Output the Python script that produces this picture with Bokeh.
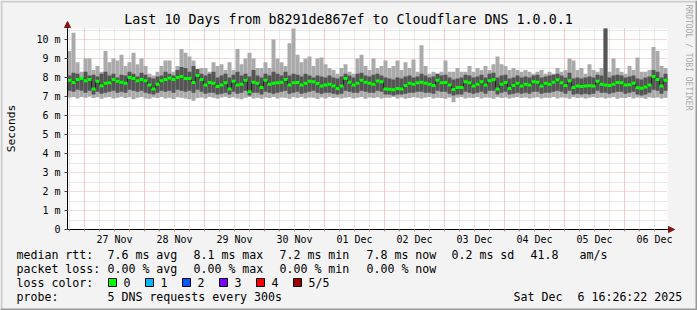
import pandas as pd
from bokeh.plotting import figure
from bokeh.models import (Range1d, FixedTicker, Label, DatetimeTickFormatter, Arrow,
                          NormalHead, BoxAnnotation, Grid)
from bokeh.embed import file_html
from bokeh.resources import INLINE

# ---------------- data (ms) ----------------
graph_start = "2025-11-26 17:12:00"
step_minutes = 96

max_rtt = [9.4,10.35,8.8,8.3,9.0,9.0,8.4,8.6,8.3,9.4,
           8.8,9.0,8.9,9.2,8.6,8.8,9.3,8.7,9.0,8.6,
           8.2,8.1,8.3,8.6,8.9,8.9,8.3,8.6,9.5,9.3,
           9.1,8.9,8.2,8.5,8.5,8.3,8.8,8.6,8.7,8.4,
           8.8,8.4,9.5,8.7,9.0,9.3,9.0,8.5,8.5,8.8,
           8.5,10.0,9.0,8.8,8.6,9.8,10.6,9.2,8.8,9.0,
           9.1,8.6,9.0,9.05,8.7,8.5,8.4,8.2,8.5,8.7,
           8.3,8.2,9.0,9.2,8.6,8.4,9.0,8.5,8.6,8.9,
           8.5,8.6,8.9,8.4,8.8,8.5,8.95,8.3,9.7,8.6,
           8.2,8.3,8.2,8.3,8.9,8.3,8.3,8.5,8.3,8.3,
           8.6,8.3,8.5,8.4,8.6,8.4,8.7,9.1,8.7,8.6,
           8.4,8.5,8.4,8.3,8.4,8.3,8.2,8.3,8.4,8.2,
           8.3,8.2,8.5,8.3,8.4,9.0,8.9,8.4,8.5,8.2,
           8.7,8.4,8.3,8.5,11.0,8.3,9.0,8.5,8.3,8.2,
           8.6,8.4,9.05,8.3,8.3,8.4,9.6,9.4,8.6,8.5]

upper_rtt = [8.1,8.25,8.2,8.0,8.3,8.1,8.15,8.05,8.2,8.3,
             8.1,8.2,8.0,8.15,8.1,8.3,8.2,8.05,8.25,8.15,
             8.0,7.95,8.05,8.1,8.3,8.2,8.1,8.4,8.55,8.5,
             8.3,8.6,8.45,8.2,8.1,8.2,8.3,8.0,8.1,8.2,
             8.0,8.15,8.3,8.1,8.2,8.05,8.4,8.1,8.0,8.2,
             8.1,8.3,8.2,8.1,8.3,8.1,8.2,8.15,8.05,8.2,
             8.1,8.0,8.1,8.05,8.0,8.1,8.0,7.95,8.05,8.2,
             8.1,8.0,8.2,8.25,8.1,8.05,8.15,8.2,8.1,8.0,
             7.95,7.9,8.0,7.95,8.05,8.1,8.0,8.05,8.2,8.1,
             8.0,8.05,8.2,8.1,8.15,8.0,7.9,7.95,8.0,8.15,
             8.1,8.0,8.05,8.15,8.0,8.2,8.25,8.0,8.1,8.15,
             7.95,8.0,8.1,8.0,8.05,8.0,8.1,8.15,8.0,8.05,
             8.1,8.15,8.2,8.1,8.0,8.25,7.95,8.0,7.95,8.0,
             8.05,8.0,8.15,8.1,11.0,8.0,8.1,8.15,8.1,8.0,
             8.05,8.1,7.95,7.9,8.0,8.05,8.4,8.3,8.0,8.2]

median_rtt = [7.86,7.74,7.9,7.95,7.83,7.9,7.4,7.8,7.56,7.7,
              7.72,7.9,7.8,7.75,7.7,8.0,7.95,7.83,7.9,7.83,
              7.6,7.4,7.65,7.83,7.9,7.98,7.9,8.0,8.05,7.95,
              7.95,7.74,8.1,7.9,7.6,7.74,7.7,7.52,7.6,7.72,
              7.39,7.8,7.6,7.65,7.85,7.25,7.75,7.7,7.47,7.85,
              7.65,7.7,7.72,7.75,7.9,7.6,7.72,7.74,7.6,7.7,
              7.8,7.78,7.68,7.55,7.6,7.65,7.55,7.42,7.55,7.95,
              7.75,7.6,7.7,7.85,7.75,7.7,7.65,7.82,7.78,7.4,
              7.38,7.36,7.42,7.4,7.58,7.7,7.65,7.72,7.75,7.7,
              7.65,7.58,7.85,7.72,7.74,7.6,7.37,7.47,7.48,7.78,
              7.72,7.55,7.65,7.78,7.6,7.83,7.88,7.4,7.65,7.74,
              7.42,7.58,7.7,7.55,7.65,7.6,7.78,7.75,7.55,7.7,
              7.65,7.75,7.88,7.72,7.58,7.83,7.47,7.55,7.52,7.55,
              7.56,7.55,7.8,7.65,7.6,7.58,7.65,7.74,7.72,7.6,
              7.62,7.7,7.46,7.44,7.5,7.6,8.05,7.9,7.55,7.85]

lower_rtt = [7.3,7.25,7.35,7.3,7.2,7.3,7.1,7.25,7.15,7.2,
             7.25,7.3,7.2,7.25,7.2,7.35,7.3,7.25,7.3,7.2,
             7.15,7.1,7.2,7.3,7.25,7.3,7.2,7.35,7.3,7.25,
             7.3,7.2,7.35,7.25,7.15,7.2,7.2,7.1,7.15,7.2,
             7.1,7.25,7.15,7.2,7.3,7.05,7.2,7.2,7.1,7.25,
             7.2,7.15,7.2,7.25,7.3,7.15,7.2,7.25,7.15,7.2,
             7.25,7.3,7.2,7.15,7.2,7.2,7.15,7.1,7.15,7.3,
             7.25,7.2,7.2,7.3,7.25,7.2,7.2,7.3,7.25,7.1,
             7.1,7.05,7.1,7.1,7.15,7.2,7.2,7.25,7.25,7.2,
             7.2,7.15,7.3,7.25,7.25,7.15,7.05,7.1,7.1,7.25,
             7.2,7.15,7.2,7.25,7.15,7.3,7.3,7.1,7.2,7.25,
             7.1,7.15,7.2,7.15,7.2,7.15,7.25,7.25,7.15,7.2,
             7.2,7.25,7.3,7.25,7.15,7.3,7.1,7.15,7.1,7.15,
             7.1,7.15,7.3,7.2,7.2,7.15,7.2,7.25,7.25,7.15,
             7.2,7.25,7.1,7.05,7.1,7.2,7.35,7.3,7.15,7.3]

min_rtt = [6.95,6.98,6.9,6.97,6.93,7.0,6.92,6.96,6.88,6.95,
           6.97,6.9,6.94,6.99,6.92,6.96,6.85,6.93,6.97,6.9,
           6.88,6.95,6.92,6.98,6.9,6.94,6.87,6.96,6.93,6.9,
           6.85,6.78,6.92,6.95,6.9,6.97,6.93,6.88,6.95,6.99,
           6.92,6.96,6.9,6.85,6.93,6.97,6.9,6.94,6.88,6.95,
           6.92,6.97,6.9,6.95,6.93,6.88,6.96,6.92,6.98,6.9,
           6.95,6.93,6.87,6.95,6.9,6.97,6.92,6.95,6.89,6.94,
           6.96,6.9,6.93,6.97,6.88,6.95,6.92,6.96,6.9,6.94,
           6.93,6.97,6.9,6.95,6.88,6.92,6.96,6.93,6.9,6.95,
           6.97,6.9,6.94,6.92,6.88,6.95,6.7,6.93,6.96,6.9,
           6.94,6.92,6.97,6.9,6.95,6.93,6.88,6.96,6.92,6.95,
           6.9,6.94,6.97,6.92,6.95,6.89,6.93,6.96,6.9,6.94,
           6.92,6.97,6.9,6.95,6.93,6.88,6.96,6.92,6.95,6.9,
           6.94,6.97,6.92,6.95,6.9,6.93,6.96,6.88,6.94,6.92,
           6.97,6.9,6.95,6.93,6.88,6.96,6.92,6.95,6.9,6.94]

day_ticks = ["2025-11-27", "2025-11-28", "2025-11-29", "2025-11-30", "2025-12-01",
             "2025-12-02", "2025-12-03", "2025-12-04", "2025-12-05", "2025-12-06"]
y_ticks = [0, 1, 2, 3, 4, 5, 6, 7, 8, 9, 10]
y_labels = ["0", "1 m", "2 m", "3 m", "4 m", "5 m", "6 m", "7 m", "8 m", "9 m", "10 m"]

title_text = "Last 10 Days from b8291de867ef to Cloudflare DNS 1.0.0.1"
loss_names = ["0", "1", "2", "3", "4", "5/5"]
loss_colors = ["#00ff00", "#00b8ff", "#0059ff", "#7e00ff", "#ff0000", "#a10000"]

# ---------------- layout constants (canvas px) ----------------
W, H = 697, 310
FL, FR, FT, FB = 67, 667, 28, 229   # plot-area edges
PX_PER_MS = 19.0
FONT = "DejaVu Sans Mono"
MGRID = "#f5b0b0"
GRID = "#d2d2d2"
ARROW = "#8b1414"


def ms(ts):
    return pd.Timestamp(ts).value / 1e6


start = pd.Timestamp(graph_start)
step = pd.Timedelta(minutes=step_minutes)
N = len(median_rtt)
t0 = [ms(start + i * step) for i in range(N)]
t1 = [ms(start + (i + 1) * step) for i in range(N)]
t_start, t_end = t0[0], t1[-1]
ms_per_px = (t_end - t_start) / (FR - FL)

midnights = [ms(d) for d in day_ticks]
noons = [ms(pd.Timestamp(d) + pd.Timedelta(hours=12)) for d in day_ticks]
six_hours = []
t = pd.Timestamp(day_ticks[0]) - pd.Timedelta(hours=6)
while ms(t) < t_end:
    if ms(t) > t_start:
        six_hours.append(ms(t))
    t += pd.Timedelta(hours=6)

y_top = (FB - FT) / PX_PER_MS
y_minor = [v + 0.5 for v in y_ticks]

# frame = whole canvas; data area mapped onto the plot-area pixels
p = figure(width=W, height=H, x_axis_type="datetime",
           x_range=Range1d(t_start - FL * ms_per_px, t_start + (W - FL) * ms_per_px),
           y_range=Range1d(-(H - FB) / PX_PER_MS, FB / PX_PER_MS),
           output_backend="svg", toolbar_location=None,
           min_border=0, min_border_left=0, min_border_right=0,
           min_border_top=0, min_border_bottom=0,
           background_fill_color="#f3f3f3", border_fill_color="#f3f3f3",
           outline_line_color=None)

# white canvas of the graph
p.quad(left=[t_start], right=[t_end], bottom=[0], top=[y_top],
       fill_color="white", line_color=None, level="image")

# grids
has_cb = "cross_bounds" in Grid.properties()
xg, yg = p.xgrid[0], p.ygrid[0]
xg.ticker = FixedTicker(ticks=midnights, minor_ticks=six_hours)
yg.ticker = FixedTicker(ticks=y_ticks, minor_ticks=y_minor)
if has_cb:
    xg.bounds = (t_start, t_end)
    yg.bounds = (0, y_top)
    xg.cross_bounds = (0, y_top)
    yg.cross_bounds = (t_start, t_end)
    for g in (xg, yg):
        g.grid_line_color = MGRID
        g.grid_line_dash = "1 1"
        g.minor_grid_line_color = GRID
        g.minor_grid_line_dash = "1 1"
else:
    for g in (xg, yg):
        g.grid_line_color = None
    p.segment(x0=six_hours, y0=[0] * len(six_hours), x1=six_hours, y1=[y_top] * len(six_hours),
              line_color=GRID, line_dash="1 1", level="underlay")
    p.segment(x0=[t_start] * len(y_minor), y0=y_minor, x1=[t_end] * len(y_minor), y1=y_minor,
              line_color=GRID, line_dash="1 1", level="underlay")
    p.segment(x0=midnights, y0=[0] * len(midnights), x1=midnights, y1=[y_top] * len(midnights),
              line_color=MGRID, line_dash="1 1", level="underlay")
    p.segment(x0=[t_start] * len(y_ticks), y0=y_ticks, x1=[t_end] * len(y_ticks), y1=y_ticks,
              line_color=MGRID, line_dash="1 1", level="underlay")

# axes drawn at fixed positions inside the full-canvas frame
xa, ya = p.xaxis[0], p.yaxis[0]
xa.fixed_location = 0
xa.bounds = (t_start, t_end)
xa.ticker = FixedTicker(ticks=noons, minor_ticks=six_hours)
xa.formatter = DatetimeTickFormatter(days="%d %b", hours="%d %b", hourmin="%d %b",
                                     months="%d %b", minutes="%d %b",
                                     strip_leading_zeros=False)
xa.major_tick_line_color = None
xa.major_tick_in = 0
xa.major_tick_out = 0
xa.minor_tick_line_color = "#d08a8a"
xa.minor_tick_in = 0
xa.minor_tick_out = 2
xa.major_label_standoff = 2
ya.fixed_location = t_start
ya.bounds = (0, y_top)
ya.ticker = FixedTicker(ticks=y_ticks)
ya.major_label_overrides = {v: s for v, s in zip(y_ticks, y_labels)}
ya.minor_tick_line_color = None
ya.major_tick_in = 0
ya.major_tick_out = 3
ya.major_tick_line_color = "#444444"
ya.major_label_standoff = 4
for ax in (xa, ya):
    ax.axis_line_color = "black"
    ax.major_label_text_font = FONT
    ax.major_label_text_font_size = "10px"
    ax.major_label_text_color = "black"

# smoke
p.quad(left=t0, right=t1, bottom=min_rtt, top=[min(v, y_top) for v in max_rtt],
       fill_color="#aaaaaa", line_color=None)
p.quad(left=t0, right=t1, bottom=lower_rtt, top=[min(v, y_top) for v in upper_rtt],
       fill_color="#555555", line_color=None)
# median connectors and median
p.segment(x0=t1[:-1], y0=median_rtt[:-1], x1=t1[:-1], y1=median_rtt[1:],
          line_color="#222222", line_width=1)
p.segment(x0=t0, y0=median_rtt, x1=t1, y1=median_rtt,
          line_color="#00ff00", line_width=3, line_cap="butt")


def lab(text, cx, cy, size=11.6, align="left", baseline="middle", angle=0, color="black"):
    p.add_layout(Label(x=cx, y=H - cy, x_units="screen", y_units="screen",
                       text=text, text_font=FONT, text_font_size=f"{size}px",
                       text_align=align, text_baseline=baseline, angle=angle,
                       angle_units="deg", text_color=color))


def box(l, r, t_, b, color, line=None):
    p.add_layout(BoxAnnotation(left=l, right=r, bottom=H - b, top=H - t_,
                               left_units="screen", right_units="screen",
                               bottom_units="screen", top_units="screen",
                               fill_color=color, fill_alpha=1.0,
                               line_color=line, line_width=1, line_alpha=1.0,
                               level="overlay"))


lab(title_text, 348, 19, size=13.3, align="center")
lab("Seconds", 11, 128, size=11.3, align="center", angle=90)
lab("RRDTOOL / TOBI OETIKER", 688, 4, size=8, align="left", angle=-90, color="#a8a8a8")

rows = [
    (254, [("median rtt:", 16), ("7.6 ms avg", 107), ("8.1 ms max", 193), ("7.2 ms min", 279),
           ("7.8 ms now", 366), ("0.2 ms sd", 451), ("41.8", 530), ("am/s", 579)]),
    (268, [("packet loss:", 16), ("0.00 % avg", 107), ("0.00 % max", 193),
           ("0.00 % min", 279), ("0.00 % now", 366)]),
    (282, [("loss color:", 16)]),
    (296, [("probe:", 16), ("5 DNS requests every 300s", 107), ("Sat Dec", 513),
           ("6 16:26:22 2025", 577)]),
]
for cy, items in rows:
    for text, cx in items:
        lab(text, cx, cy)

box_x = [108, 145, 182, 219, 256, 293]
for name, col, bx in zip(loss_names, loss_colors, box_x):
    box(bx, bx + 8, 278, 286, col, line="black")
    lab(name, bx + 15, 282)

# 3-D frame of the image
box(0, W, 0, 2, "#cbcbcb")
box(0, 2, 0, H, "#cbcbcb")
box(W - 2, W, 0, H, "#999999")
box(0, W, H - 2, H, "#999999")

# axis arrows
p.add_layout(Arrow(end=NormalHead(size=6, fill_color=ARROW, line_color=ARROW),
                   x_start=FL, y_start=H - FT, x_end=FL, y_end=H - 21,
                   start_units="screen", end_units="screen", line_color="black"))
p.add_layout(Arrow(end=NormalHead(size=6, fill_color=ARROW, line_color=ARROW),
                   x_start=FR, y_start=H - FB, x_end=674, y_end=H - FB,
                   start_units="screen", end_units="screen", line_color="black"))

open("out.html", "w").write(file_html(p, INLINE))
